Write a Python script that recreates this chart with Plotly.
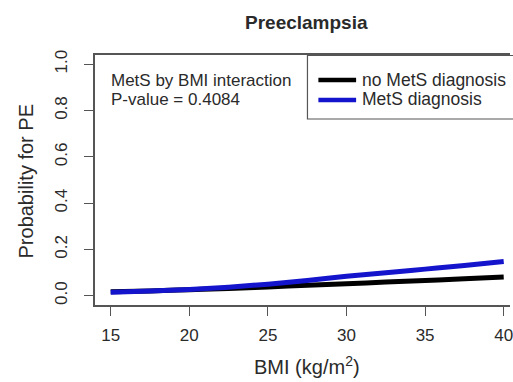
import plotly.graph_objects as go

bmi = [15, 17.5, 20, 22.5, 25, 27.5, 30, 32.5, 35, 37.5, 40]
p_no_mets = [0.017, 0.021, 0.026, 0.031, 0.038, 0.045, 0.052, 0.059, 0.066, 0.073, 0.081]
p_mets = [0.015, 0.020, 0.027, 0.037, 0.050, 0.066, 0.084, 0.099, 0.115, 0.131, 0.148]
y_ticks = [0.0, 0.2, 0.4, 0.6, 0.8, 1.0]
y_ticktext = ["0.0", "0.2", "0.4", "0.6", "0.8", "1.0"]
x_ticks = [15, 20, 25, 30, 35, 40]

W, H = 513, 382
L, R, T, B = 95, 0, 55, 77
pw, ph = W - L - R, H - T - B

def px(x):
    return (x - L) / pw

def py(y):
    return (H - B - y) / ph

FONT = "Liberation Sans, Arial, sans-serif"
TXT = "#2a2a2a"

fig = go.Figure()
fig.add_trace(go.Scatter(x=bmi, y=p_no_mets, mode="lines", name="no MetS diagnosis",
                         line=dict(color="#000000", width=5, shape="spline")))
fig.add_trace(go.Scatter(x=bmi, y=p_mets, mode="lines", name="MetS diagnosis",
                         line=dict(color="#1414cc", width=5, shape="spline")))

axis_line = "#555555"
fig.update_layout(
    width=W, height=H,
    margin=dict(l=L, r=R, t=T, b=B, pad=0),
    paper_bgcolor="white", plot_bgcolor="white",
    showlegend=False,
    font=dict(family=FONT, color=TXT, size=17),
    xaxis=dict(range=[14, 40.4], tickvals=x_ticks, ticks="outside", ticklen=9,
               tickcolor=axis_line, showline=True, linecolor=axis_line, linewidth=1.5,
               mirror=True, showgrid=False, zeroline=False, ticklabeloverflow="allow",
               tickfont=dict(size=17, color=TXT), ticklabelstandoff=5),
    yaxis=dict(range=[-0.04, 1.04], tickvals=y_ticks, ticktext=y_ticktext, ticks="outside",
               ticklen=9, tickcolor=axis_line, showline=True, linecolor=axis_line, linewidth=1.5,
               showgrid=False, zeroline=False, tickangle=-90,
               tickfont=dict(size=17, color=TXT), ticklabelstandoff=10),
)

# legend box
fig.add_shape(type="rect", xref="paper", yref="paper",
              x0=px(309), x1=px(540), y0=py(119), y1=py(55.5),
              line=dict(color=axis_line, width=1.2), fillcolor="white", layer="above")
for yy, col in [(80, "#000000"), (100, "#1414cc")]:
    fig.add_shape(type="line", xref="paper", yref="paper",
                  x0=px(320), x1=px(358), y0=py(yy), y1=py(yy),
                  line=dict(color=col, width=4.5), layer="above")
fig.add_annotation(xref="paper", yref="paper", x=px(362), y=py(80), text="no MetS diagnosis",
                   showarrow=False, xanchor="left", yanchor="middle", font=dict(size=17.5, color=TXT))
fig.add_annotation(xref="paper", yref="paper", x=px(362), y=py(99), text="MetS diagnosis",
                   showarrow=False, xanchor="left", yanchor="middle", font=dict(size=17.5, color=TXT))
# interaction text
fig.add_annotation(xref="paper", yref="paper", x=px(109), y=py(80), text="MetS by BMI interaction",
                   showarrow=False, xanchor="left", yanchor="middle", font=dict(size=17, color=TXT))
fig.add_annotation(xref="paper", yref="paper", x=px(109), y=py(99), text="P-value = 0.4084",
                   showarrow=False, xanchor="left", yanchor="middle", font=dict(size=17, color=TXT))
# title
fig.add_annotation(xref="paper", yref="paper", x=px(308.5), y=py(22), text="<b>Preeclampsia</b>",
                   showarrow=False, xanchor="center", yanchor="middle", font=dict(size=19, color=TXT))
# axis titles
fig.add_annotation(xref="paper", yref="paper", x=px(26), y=py(181), text="Probability for PE",
                   showarrow=False, xanchor="center", yanchor="middle", textangle=-90,
                   font=dict(size=20, color=TXT))
fig.add_annotation(xref="paper", yref="paper", x=px(309), y=py(365), text="BMI (kg/m<sup>2</sup>)",
                   showarrow=False, xanchor="center", yanchor="middle", font=dict(size=20, color=TXT))

fig.write_html("out.html", config={"displayModeBar": False},
               post_script="document.body.style.margin='0';document.body.style.overflow='hidden';")
